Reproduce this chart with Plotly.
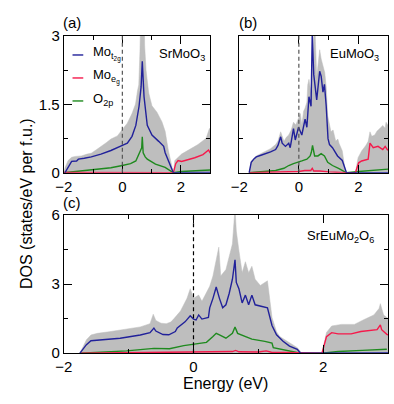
import plotly.graph_objects as go

# ---------------- data ----------------
# Panel (a) SrMoO3
a_tot_E = [-2.0, -1.95, -1.85, -1.73, -1.6, -1.4, -1.2, -1.06, -0.9, -0.73, -0.55, -0.39, -0.17, 0.0, 0.17, 0.33, 0.45, 0.52, 0.56, 0.6, 0.63, 0.68, 0.74, 0.76, 0.81, 0.9, 1.01, 1.18, 1.35, 1.46, 1.57, 1.74, 1.79, 2.02, 2.3, 2.58, 2.86, 2.97, 3.0]
a_tot_v = [0, 0.12, 0.27, 0.34, 0.36, 0.37, 0.41, 0.43, 0.5, 0.57, 0.66, 0.74, 0.81, 0.95, 1.09, 1.3, 1.51, 1.81, 1.93, 2.65, 4.5, 5.0, 4.5, 2.8, 2.24, 1.75, 1.47, 1.33, 1.12, 0.91, 0.49, 0, 0.27, 0.41, 0.52, 0.62, 0.76, 0.97, 0.97]
a_t2g_E = [-1.96, -1.85, -1.73, -1.56, -1.5, -1.3, -1.06, -0.73, -0.39, 0.0, 0.17, 0.33, 0.46, 0.57, 0.64, 0.68, 0.74, 0.85, 1.01, 1.24, 1.41, 1.46, 1.74, 3.0]
a_t2g_v = [0, 0.12, 0.25, 0.26, 0.3, 0.32, 0.35, 0.41, 0.49, 0.6, 0.65, 0.8, 1.04, 1.46, 1.89, 2.45, 1.67, 1.04, 0.83, 0.69, 0.58, 0.44, 0, 0.01]
a_eg_E = [-2.0, 1.74, 1.82, 1.9, 2.02, 2.19, 2.47, 2.75, 2.94, 3.0]
a_eg_v = [0.01, 0.0, 0.2, 0.27, 0.25, 0.28, 0.33, 0.4, 0.5, 0.43]
a_o2p_E = [-2.0, -1.73, -1.4, -1.06, -0.73, -0.39, 0.0, 0.28, 0.46, 0.57, 0.62, 0.66, 0.68, 0.71, 0.78, 0.85, 1.13, 1.46, 1.74, 2.02, 2.5, 3.0]
a_o2p_v = [0, 0.02, 0.04, 0.07, 0.09, 0.11, 0.16, 0.2, 0.26, 0.4, 0.49, 0.55, 0.79, 0.44, 0.35, 0.3, 0.19, 0.12, 0, 0.03, 0.045, 0.06]

# Panel (b) EuMoO3
b_tot_E = [-1.67, -1.6, -1.43, -1.25, -1.1, -0.95, -0.78, -0.7, -0.61, -0.5, -0.42, -0.34, -0.25, -0.18, -0.1, -0.01, 0.05, 0.1, 0.16, 0.21, 0.27, 0.3, 0.34, 0.41, 0.45, 0.48, 0.53, 0.6, 0.65, 0.7, 0.75, 0.8, 0.87, 0.92, 0.97, 1.08, 1.15, 1.24, 1.31, 1.35, 1.46, 1.57, 1.9, 1.99, 2.11, 2.25, 2.33, 2.39, 2.45, 2.55, 2.63, 2.72, 2.82, 2.9, 2.93, 3.0]
b_tot_v = [0, 0.26, 0.37, 0.43, 0.48, 0.53, 0.62, 0.7, 0.9, 0.69, 0.78, 0.83, 0.95, 1.11, 1.05, 1.18, 1.3, 1.04, 1.35, 1.42, 1.55, 1.93, 2.05, 1.75, 2.6, 2.9, 3.4, 2.1, 2.36, 2.7, 2.5, 2.35, 2.2, 1.88, 1.25, 0.9, 0.94, 0.69, 0.74, 0.65, 0.48, 0, 0, 0.33, 0.48, 0.6, 0.69, 0.9, 0.8, 0.83, 0.92, 0.97, 1.04, 0.98, 1.11, 1.04]
b_t2g_E = [-1.67, -1.6, -1.5, -1.43, -1.25, -1.1, -0.95, -0.78, -0.7, -0.61, -0.56, -0.45, -0.34, -0.29, -0.18, -0.12, -0.01, 0.1, 0.21, 0.27, 0.34, 0.41, 0.45, 0.5, 0.57, 0.6, 0.7, 0.75, 0.81, 0.86, 0.92, 0.98, 1.03, 1.13, 1.3, 1.46, 1.6, 3.0]
b_t2g_v = [0, 0.23, 0.31, 0.35, 0.39, 0.42, 0.46, 0.51, 0.6, 0.79, 0.65, 0.58, 0.65, 0.55, 0.97, 0.72, 1.0, 0.83, 1.18, 1.0, 1.67, 1.46, 3.05, 2.16, 1.67, 1.6, 2.23, 2.12, 1.77, 1.94, 1.46, 0.75, 0.62, 0.55, 0.37, 0.27, 0, 0.005]
b_eg_E = [-1.67, -0.5, 0.0, 0.2, 0.4, 0.45, 0.5, 0.7, 1.0, 1.6, 1.9, 2.01, 2.11, 2.33, 2.39, 2.5, 2.66, 2.82, 2.9, 2.99]
b_eg_v = [0, 0.01, 0.03, 0.05, 0.05, 0.1, 0.04, 0.04, 0.02, 0, 0, 0.22, 0.26, 0.3, 0.65, 0.55, 0.58, 0.51, 0.58, 0.49]
b_o2p_E = [-1.67, -1.43, -1.1, -0.78, -0.5, -0.34, -0.18, 0.0, 0.1, 0.27, 0.38, 0.42, 0.46, 0.53, 0.64, 0.75, 0.86, 0.97, 1.13, 1.35, 1.6, 2.01, 2.5, 3.0]
b_o2p_v = [0, 0.01, 0.03, 0.05, 0.1, 0.16, 0.2, 0.23, 0.26, 0.3, 0.37, 0.45, 0.6, 0.37, 0.37, 0.42, 0.37, 0.23, 0.16, 0.09, 0, 0.03, 0.05, 0.08]

# Panel (c) SrEuMo2O6
c_tot_E = [-1.75, -1.65, -1.58, -1.48, -1.3, -1.13, -0.95, -0.82, -0.67, -0.62, -0.58, -0.5, -0.42, -0.35, -0.3, -0.2, -0.1, -0.05, 0.0, 0.08, 0.13, 0.2, 0.25, 0.3, 0.35, 0.39, 0.42, 0.5, 0.55, 0.6, 0.64, 0.66, 0.7, 0.75, 0.8, 0.85, 0.9, 0.95, 1.03, 1.1, 1.14, 1.21, 1.28, 1.33, 1.48, 1.6, 1.67, 1.98, 2.05, 2.13, 2.28, 2.48, 2.63, 2.78, 2.86, 2.88, 2.93, 2.98, 3.0]
c_tot_v = [0, 0.58, 0.79, 0.86, 0.93, 1.0, 1.07, 1.14, 1.28, 1.69, 1.42, 1.3, 1.28, 1.35, 1.5, 1.83, 2.38, 2.8, 2.38, 2.52, 2.25, 2.66, 2.9, 3.35, 4.05, 4.6, 3.35, 3.63, 4.19, 4.74, 6.3, 5.3, 4.46, 3.49, 3.97, 3.49, 3.77, 3.21, 2.94, 3.07, 3.14, 1.55, 0.93, 0.72, 0.44, 0.24, 0, 0, 0.9, 1.18, 1.25, 1.25, 1.46, 1.66, 1.94, 2.15, 1.66, 1.52, 1.5]
c_t2g_E = [-1.75, -1.65, -1.58, -1.43, -1.13, -0.82, -0.67, -0.61, -0.58, -0.47, -0.38, -0.28, -0.25, -0.13, -0.05, 0.0, 0.04, 0.08, 0.13, 0.23, 0.25, 0.3, 0.35, 0.4, 0.45, 0.5, 0.55, 0.6, 0.64, 0.66, 0.7, 0.75, 0.8, 0.85, 0.9, 0.95, 1.03, 1.1, 1.14, 1.21, 1.28, 1.38, 1.48, 1.6, 1.65, 3.0]
c_t2g_v = [0, 0.37, 0.54, 0.58, 0.65, 0.79, 0.89, 1.09, 0.96, 0.81, 0.8, 0.94, 1.1, 1.36, 1.62, 1.48, 1.44, 1.66, 1.48, 1.55, 1.97, 2.38, 2.87, 2.38, 1.97, 2.1, 2.59, 3.21, 4.05, 3.07, 2.8, 2.18, 2.52, 2.1, 2.52, 2.1, 2.04, 2.0, 1.97, 1.2, 0.8, 0.52, 0.31, 0.17, 0, 0.01]
c_eg_E = [-1.75, -1.0, -0.5, 0.0, 0.3, 0.6, 0.65, 0.7, 1.0, 1.12, 1.2, 1.65, 1.98, 2.05, 2.13, 2.23, 2.43, 2.58, 2.73, 2.83, 2.88, 2.9, 2.98, 3.0]
c_eg_v = [0, 0.02, 0.03, 0.06, 0.06, 0.07, 0.12, 0.06, 0.05, 0.1, 0.04, 0, 0, 0.72, 0.89, 0.84, 0.84, 0.94, 0.99, 1.02, 1.23, 1.02, 0.82, 0.8]
c_o2p_E = [-1.75, -1.43, -1.03, -0.61, -0.37, -0.15, 0.0, 0.2, 0.3, 0.35, 0.4, 0.5, 0.6, 0.64, 0.68, 0.8, 0.9, 1.1, 1.21, 1.23, 1.48, 1.65, 1.98, 2.23, 2.6, 2.98]
c_o2p_v = [0, 0.05, 0.1, 0.21, 0.19, 0.33, 0.4, 0.47, 0.72, 0.86, 0.79, 0.65, 0.86, 1.14, 0.86, 0.72, 0.61, 0.51, 0.44, 0.24, 0.1, 0, 0, 0.07, 0.12, 0.17]

x_ticks = [-2, 0, 2]
x_minor = [-1, 1, 3]
y_ticks_ab = [0, 1.5, 3]
y_minor_ab = [0.75, 2.25]
y_ticks_c = [0, 3, 6]
y_minor_c = [1.5, 4.5]
panel_labels = ["(a)", "(b)", "(c)"]
compounds = ["SrMoO<sub>3</sub>", "EuMoO<sub>3</sub>", "SrEuMo<sub>2</sub>O<sub>6</sub>"]
legend_names = ["Mo<sub>t<sub>2g</sub></sub>", "Mo<sub>e<sub>g</sub></sub>", "O<sub>2p</sub>"]

# ---------------- styling ----------------
W, H = 394, 404
FONT = "Liberation Sans, Arial, Helvetica, sans-serif"
GREY = "#bebebe"
BLUE = "#21219a"
RED = "#f5194b"
GREEN = "#1f8a1f"
LW = 1.4

def fx(p):
    return p / W

def fy(p):
    return 1 - p / H

fig = go.Figure()

panels = [
    ("x", "y", a_tot_E, a_tot_v, a_t2g_E, a_t2g_v, a_eg_E, a_eg_v, a_o2p_E, a_o2p_v),
    ("x2", "y2", b_tot_E, b_tot_v, b_t2g_E, b_t2g_v, b_eg_E, b_eg_v, b_o2p_E, b_o2p_v),
    ("x3", "y3", c_tot_E, c_tot_v, c_t2g_E, c_t2g_v, c_eg_E, c_eg_v, c_o2p_E, c_o2p_v),
]
for xa, ya, tE, tv, bE, bv, rE, rv, gE, gv in panels:
    fig.add_trace(go.Scatter(x=tE, y=tv, xaxis=xa, yaxis=ya, mode="lines",
                             fill="tozeroy", fillcolor=GREY,
                             line=dict(color=GREY, width=0.5), showlegend=False,
                             hoverinfo="skip"))
    fig.add_trace(go.Scatter(x=gE, y=gv, xaxis=xa, yaxis=ya, mode="lines",
                             line=dict(color=GREEN, width=LW), showlegend=False))
    fig.add_trace(go.Scatter(x=rE, y=rv, xaxis=xa, yaxis=ya, mode="lines",
                             line=dict(color=RED, width=LW), showlegend=False))
    fig.add_trace(go.Scatter(x=bE, y=bv, xaxis=xa, yaxis=ya, mode="lines",
                             line=dict(color=BLUE, width=LW), showlegend=False))

# empty traces on the overlay (minor-tick) axes
for xa, ya in [("x4", "y4"), ("x5", "y5"), ("x6", "y6")]:
    fig.add_trace(go.Scatter(x=[None], y=[None], xaxis=xa, yaxis=ya, mode="lines",
                             showlegend=False, hoverinfo="skip"))

xdom_a = [fx(56), fx(206)]
xdom_b = [fx(235.7), fx(388)]
xdom_c = [fx(56), fx(388)]
ydom_ab = [fy(171), fy(28.3)]
ydom_c = [fy(359.3), fy(215)]

axis_common = dict(showline=True, linecolor="#000000", linewidth=1, mirror="ticks",
                   ticks="inside", ticklen=8, tickcolor="#000000", tickwidth=1,
                   showgrid=False, zeroline=False,
                   tickfont=dict(family=FONT, size=15, color="black"))
minor_common = dict(showline=False, mirror="ticks", ticks="inside", ticklen=4,
                    tickcolor="#000000", tickwidth=1, showgrid=False, zeroline=False,
                    showticklabels=False)

fig.update_layout(
    xaxis=dict(domain=xdom_a, anchor="y", range=[-2, 3], tickvals=x_ticks, **axis_common),
    yaxis=dict(domain=ydom_ab, anchor="x", range=[0, 3], tickvals=y_ticks_ab,
               ticktext=["0", "1.5", "3"], **axis_common),
    xaxis2=dict(domain=xdom_b, anchor="y2", range=[-2, 3], tickvals=x_ticks, **axis_common),
    yaxis2=dict(domain=ydom_ab, anchor="x2", range=[0, 3], tickvals=y_ticks_ab,
                showticklabels=False, **axis_common),
    xaxis3=dict(domain=xdom_c, anchor="y3", range=[-2, 3], tickvals=x_ticks, **axis_common),
    yaxis3=dict(domain=ydom_c, anchor="x3", range=[0, 6], tickvals=y_ticks_c, **axis_common),
    xaxis4=dict(overlaying="x", anchor="y4", range=[-2, 3], tickvals=x_minor, **minor_common),
    yaxis4=dict(overlaying="y", anchor="x4", range=[0, 3], tickvals=y_minor_ab, **minor_common),
    xaxis5=dict(overlaying="x2", anchor="y5", range=[-2, 3], tickvals=x_minor, **minor_common),
    yaxis5=dict(overlaying="y2", anchor="x5", range=[0, 3], tickvals=y_minor_ab, **minor_common),
    xaxis6=dict(overlaying="x3", anchor="y6", range=[-2, 3], tickvals=x_minor, **minor_common),
    yaxis6=dict(overlaying="y3", anchor="x6", range=[0, 6], tickvals=y_minor_c, **minor_common),
    width=W, height=H, margin=dict(l=0, r=0, t=0, b=0, pad=0),
    paper_bgcolor="white", plot_bgcolor="white", showlegend=False,
)

# Fermi level dashed lines
for xr, yr, col in [("x", "y domain", "#555555"), ("x2", "y2 domain", "#555555"), ("x3", "y3 domain", "black")]:
    fig.add_shape(type="line", xref=xr, yref=yr, x0=0, x1=0, y0=0, y1=1,
                  line=dict(color=col, width=1.2, dash="4px,3px"))

ann = []
for lab, (x, y) in zip(panel_labels, [(64, 14), (245, 14), (64, 202)]):
    ann.append(dict(text=lab, x=fx(x), y=fy(y), xref="paper", yref="paper",
                    showarrow=False, xanchor="center", yanchor="middle",
                    font=dict(family=FONT, size=15, color="black")))
for comp, (x, y) in zip(compounds, [(203, 48), (381, 48), (376, 238)]):
    ann.append(dict(text=comp, x=fx(x), y=fy(y), xref="paper", yref="paper",
                    showarrow=False, xanchor="right", yanchor="middle",
                    font=dict(family=FONT, size=13, color="black")))
for name, col, y in zip(legend_names, [BLUE, RED, GREEN], [48, 72, 96]):
    fig.add_shape(type="line", xref="paper", yref="paper", x0=fx(65), x1=fx(76),
                  y0=fy(y), y1=fy(y), line=dict(color=col, width=LW))
    ann.append(dict(text=name, x=fx(84), y=fy(y - 2), xref="paper", yref="paper",
                    showarrow=False, xanchor="left", yanchor="middle",
                    font=dict(family=FONT, size=13, color="black")))
ann.append(dict(text="DOS (states/eV per f.u.)", x=fx(18), y=fy(203), xref="paper",
                yref="paper", showarrow=False, textangle=-90, xanchor="center",
                yanchor="middle", font=dict(family=FONT, size=16, color="black")))
ann.append(dict(text="Energy (eV)", x=fx(222), y=fy(391), xref="paper", yref="paper",
                showarrow=False, xanchor="center", yanchor="middle",
                font=dict(family=FONT, size=16, color="black")))
fig.update_layout(annotations=ann)

fig.write_html("out.html", config={"displayModeBar": False},
               post_script="document.body.style.margin='0';document.body.style.overflow='hidden';")
